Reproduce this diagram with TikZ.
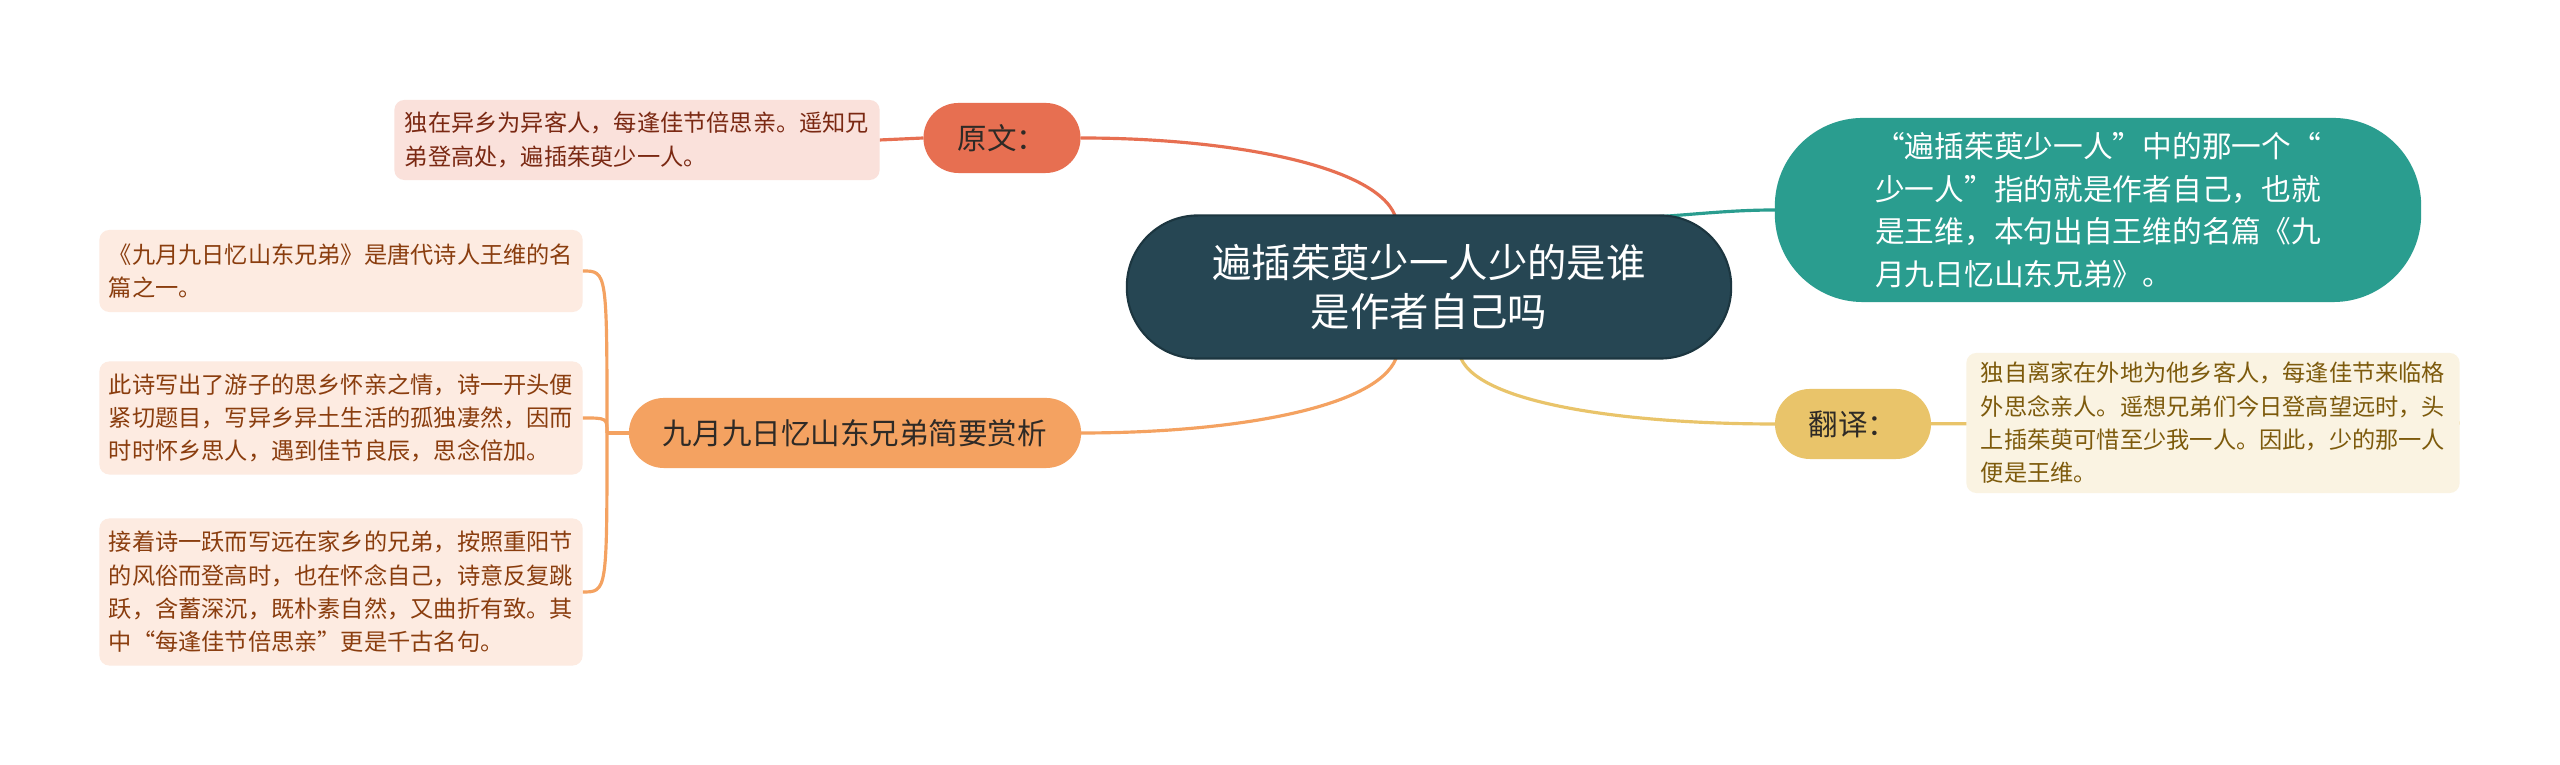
\documentclass[tikz,border=0pt]{standalone}
\usepackage{fontspec}
\setmainfont{Noto Sans CJK SC}
\usetikzlibrary{calc}
\definecolor{cdark}{HTML}{264653}
\definecolor{cdarkb}{HTML}{1C3640}
\definecolor{cteal}{HTML}{2A9D8F}
\definecolor{cred}{HTML}{E76F51}
\definecolor{cyel}{HTML}{E9C46A}
\definecolor{corg}{HTML}{F4A261}
\definecolor{redleaf}{HTML}{FAE1DB}
\definecolor{redtext}{HTML}{7A2812}
\definecolor{yelleaf}{HTML}{FAF3E2}
\definecolor{yeltext}{HTML}{7D5A0C}
\definecolor{orgleaf}{HTML}{FDEBE1}
\definecolor{orgtext}{HTML}{8A3D0E}
\definecolor{labtext}{HTML}{2E2A26}
\pgfdeclarelayer{bg}
\pgfsetlayers{bg,main}
\begin{document}
\begin{tikzpicture}[x=0.01cm,y=-0.01cm,
  base/.style={inner sep=0pt,outer sep=0pt},
  rootbox/.style={base,fill=cdark,draw=cdarkb,line width=0.6pt,rounded corners=0.71cm,
    minimum width=6.04cm,minimum height=1.43cm,text=white,align=center,
    font=\fontsize{11.2}{14}\selectfont},
  tealbox/.style={base,fill=cteal,rounded corners=0.88cm,minimum width=6.46cm,
    minimum height=1.84cm,text=white,align=left,font=\fontsize{8.45}{12.1}\selectfont},
  labbox/.style={base,rounded corners=0.35cm,minimum height=0.70cm,text=labtext,
    align=center,font=\fontsize{8.4}{10}\selectfont},
  leafbox/.style={base,rounded corners=0.1cm,align=left,
    font=\fontsize{6.6}{9.5}\selectfont},
  conn/.style={line width=0.9pt}
]
\useasboundingbox (0,0) rectangle (2560,765);

% main nodes
\node[rootbox] (c) at (1429,287) {遍插茱萸少一人少的是谁\\是作者自己吗};
\node[tealbox] (g) at (2098,210) {“遍插茱萸少一人”中的那一个“\\少一人”指的就是作者自己，也就\\是王维，本句出自王维的名篇《九\\月九日忆山东兄弟》。};
\node[labbox,fill=cred,minimum width=1.57cm] (yw) at (1002,138) {原文：};
\node[labbox,fill=cyel,minimum width=1.56cm] (fy) at (1853,424) {翻译：};
\node[labbox,fill=corg,minimum width=4.52cm] (jy) at (855,433) {九月九日忆山东兄弟简要赏析};

% leaves
\node[leafbox,fill=redleaf,text=redtext,minimum width=4.85cm,minimum height=0.80cm] (ywl) at (637,140)
  {独在异乡为异客人，每逢佳节倍思亲。遥知兄\\弟登高处，遍插茱萸少一人。};
\node[leafbox,fill=yelleaf,text=yeltext,minimum width=4.93cm,minimum height=1.40cm] (fyl) at (2213,423)
  {独自离家在外地为他乡客人，每逢佳节来临格\\外思念亲人。遥想兄弟们今日登高望远时，头\\上插茱萸可惜至少我一人。因此，少的那一人\\便是王维。};
\node[leafbox,fill=orgleaf,text=orgtext,minimum width=4.83cm,minimum height=0.82cm] (l1) at (341,271)
  {《九月九日忆山东兄弟》是唐代诗人王维的名\\篇之一。};
\node[leafbox,fill=orgleaf,text=orgtext,minimum width=4.83cm,minimum height=1.13cm] (l2) at (341,418)
  {此诗写出了游子的思乡怀亲之情，诗一开头便\\紧切题目，写异乡异土生活的孤独凄然，因而\\时时怀乡思人，遇到佳节良辰，思念倍加。};
\node[leafbox,fill=orgleaf,text=orgtext,minimum width=4.83cm,minimum height=1.47cm] (l3) at (341,592)
  {接着诗一跃而写远在家乡的兄弟，按照重阳节\\的风俗而登高时，也在怀念自己，诗意反复跳\\跃，含蓄深沉，既朴素自然，又曲折有致。其\\中“每逢佳节倍思亲”更是千古名句。};

\coordinate (j) at (607,433);

\begin{pgfonlayer}{bg}
\fill[white] (0,0) rectangle (2560,765);
\draw[conn,cred] ([xshift=-0.34cm]c.north) .. controls +(-0.2cm,0.5cm) and +(1.5cm,0cm) .. (yw.east);
\draw[conn,corg] ([xshift=-0.33cm]c.south) .. controls +(-0.2cm,-0.5cm) and +(1.5cm,0cm) .. (jy.east);
\draw[conn,cyel] ([xshift=0.32cm]c.south) .. controls +(0.2cm,-0.45cm) and +(-1.5cm,0cm) .. (fy.west);
\draw[conn,cteal] ([xshift=1.79cm,yshift=-0.03cm]c.north) .. controls +(0.6cm,0cm) and +(-0.6cm,0cm) .. (g.west);
\draw[conn,cred] (yw.west) -- (ywl.east);
\draw[conn,cyel] (fy.west) -- (fyl.east);
\draw[conn,corg] (jy.west) -- (j);
\draw[conn,corg] (j) .. controls (j |- l1.east) .. (l1.east);
\draw[conn,corg] (j) .. controls (j |- l2.east) .. (l2.east);
\draw[conn,corg] (j) .. controls (j |- l3.east) .. (l3.east);
\end{pgfonlayer}
\end{tikzpicture}
\end{document}
